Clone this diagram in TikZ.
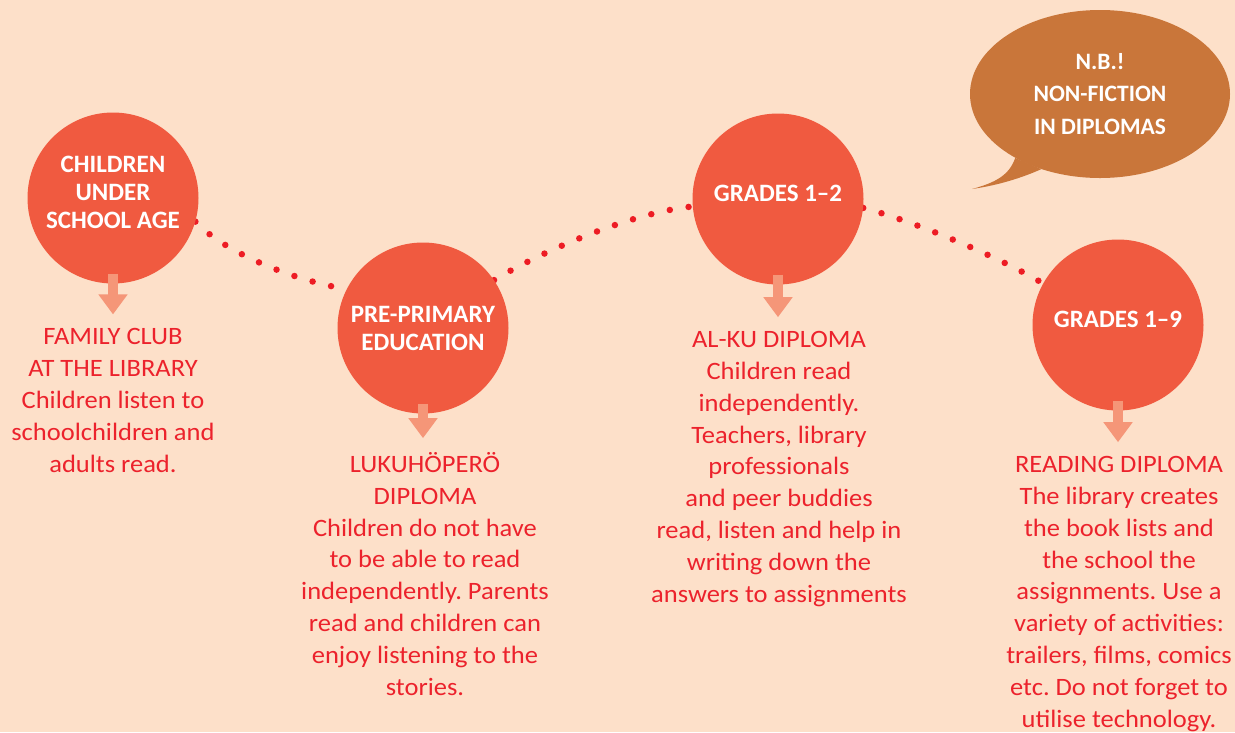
\documentclass[tikz,border=0pt]{standalone}
\usepackage{fontspec}
\setmainfont{Carlito}
\newfontfamily\notefont{Carlito}[FakeStretch=1.06]
\usetikzlibrary{arrows.meta,positioning,shapes.geometric,backgrounds}
\definecolor{peach}{RGB}{253,224,201}
\definecolor{discred}{RGB}{240,90,64}
\definecolor{dotred}{RGB}{237,28,36}
\definecolor{txtred}{RGB}{236,34,44}
\definecolor{salmon}{RGB}{245,150,120}
\definecolor{bubble}{RGB}{201,118,58}
\frenchspacing

\begin{document}
\begin{tikzpicture}[
  x=1pt,y=-1pt,
  disc/.style={circle,fill=discred,minimum size=171pt,inner sep=0pt,align=center,text depth=11pt,
    text=white,font=\fontsize{25}{28}\selectfont\bfseries},
  note/.style={anchor=base,inner sep=0pt,align=center,text=txtred,
    font=\notefont\fontsize{25}{31.8}\selectfont},
  down/.style={-{Triangle[width=28pt,length=20pt]},salmon,line width=10pt},
  dots/.style={dotred,line width=6.5pt,line cap=round,dash pattern=on 0pt off 19pt}
]
\useasboundingbox (0,0) rectangle (1235,732);

% the four stages
\node[disc] (c1) at (113,198) {CHILDREN\\UNDER\\SCHOOL AGE};
\node[disc,text depth=0pt] (c2) at (423,328) {PRE-PRIMARY\\EDUCATION};
\node[disc] (c3) at (778,199) {GRADES 1–2};
\node[disc] (c4) at (1118,325) {GRADES 1–9};

% texts below, anchored at their last line
\node[note] (t1) at (113,472) {FAMILY CLUB\\AT THE LIBRARY\\Children listen to\\schoolchildren and\\adults read.};
\node[note] (t2) at (425,695) {LUKUHÖPERÖ\\DIPLOMA\\Children do not have\\to be able to read\\independently. Parents\\read and children can\\enjoy listening to the\\stories.};
\node[note] (t3) at (779,602) {AL-KU DIPLOMA\\Children read\\independently.\\Teachers, library\\professionals\\and peer buddies\\read, listen and help in\\writing down the\\answers to assignments};
\node[note] (t4) at (1119,727) {READING DIPLOMA\\The library creates\\the book lists and\\the school the\\assignments. Use a\\variety of activities:\\trailers, films, comics\\etc. Do not forget to\\utilise technology.};

\draw[down] ([yshift=10pt]c1.south) -- ([yshift=14pt]c1.south |- t1.north);
\draw[down] ([yshift=10pt]c2.south) -- ([yshift=14pt]c2.south |- t2.north);
\draw[down] ([yshift=10pt]c3.south) -- ([yshift=14pt]c3.south |- t3.north);
\draw[down] ([yshift=10pt]c4.south) -- ([yshift=14pt]c4.south |- t4.north);

% speech bubble
\node[ellipse,fill=bubble,minimum width=260pt,minimum height=168pt,inner sep=0pt,align=center,
  text=white,font=\fontsize{23.5}{32.5}\selectfont\bfseries] (nb) at (1100,94) {N.B.!\\NON-FICTION\\IN DIPLOMAS};
\coordinate (tip) at (972,189);
\fill[bubble] (nb.-143) .. controls +(-6,18) and +(22,-6) .. (tip)
  .. controls +(28,-4) and +(-18,8) .. (nb.-128) -- cycle;

\begin{scope}[on background layer]
\fill[peach] (0,0) rectangle (1235,732);
\draw[dots] (c1.-16) .. controls +(30,32) and +(-50,-8) .. (c2.153);
\draw[dots] (c2.34) .. controls +(50,-30) and +(-60,6) .. (c3.185);
\draw[dots] (c3.-6) .. controls +(50,13) and +(-45,-27) .. (c4.151);
\end{scope}
\end{tikzpicture}
\end{document}
